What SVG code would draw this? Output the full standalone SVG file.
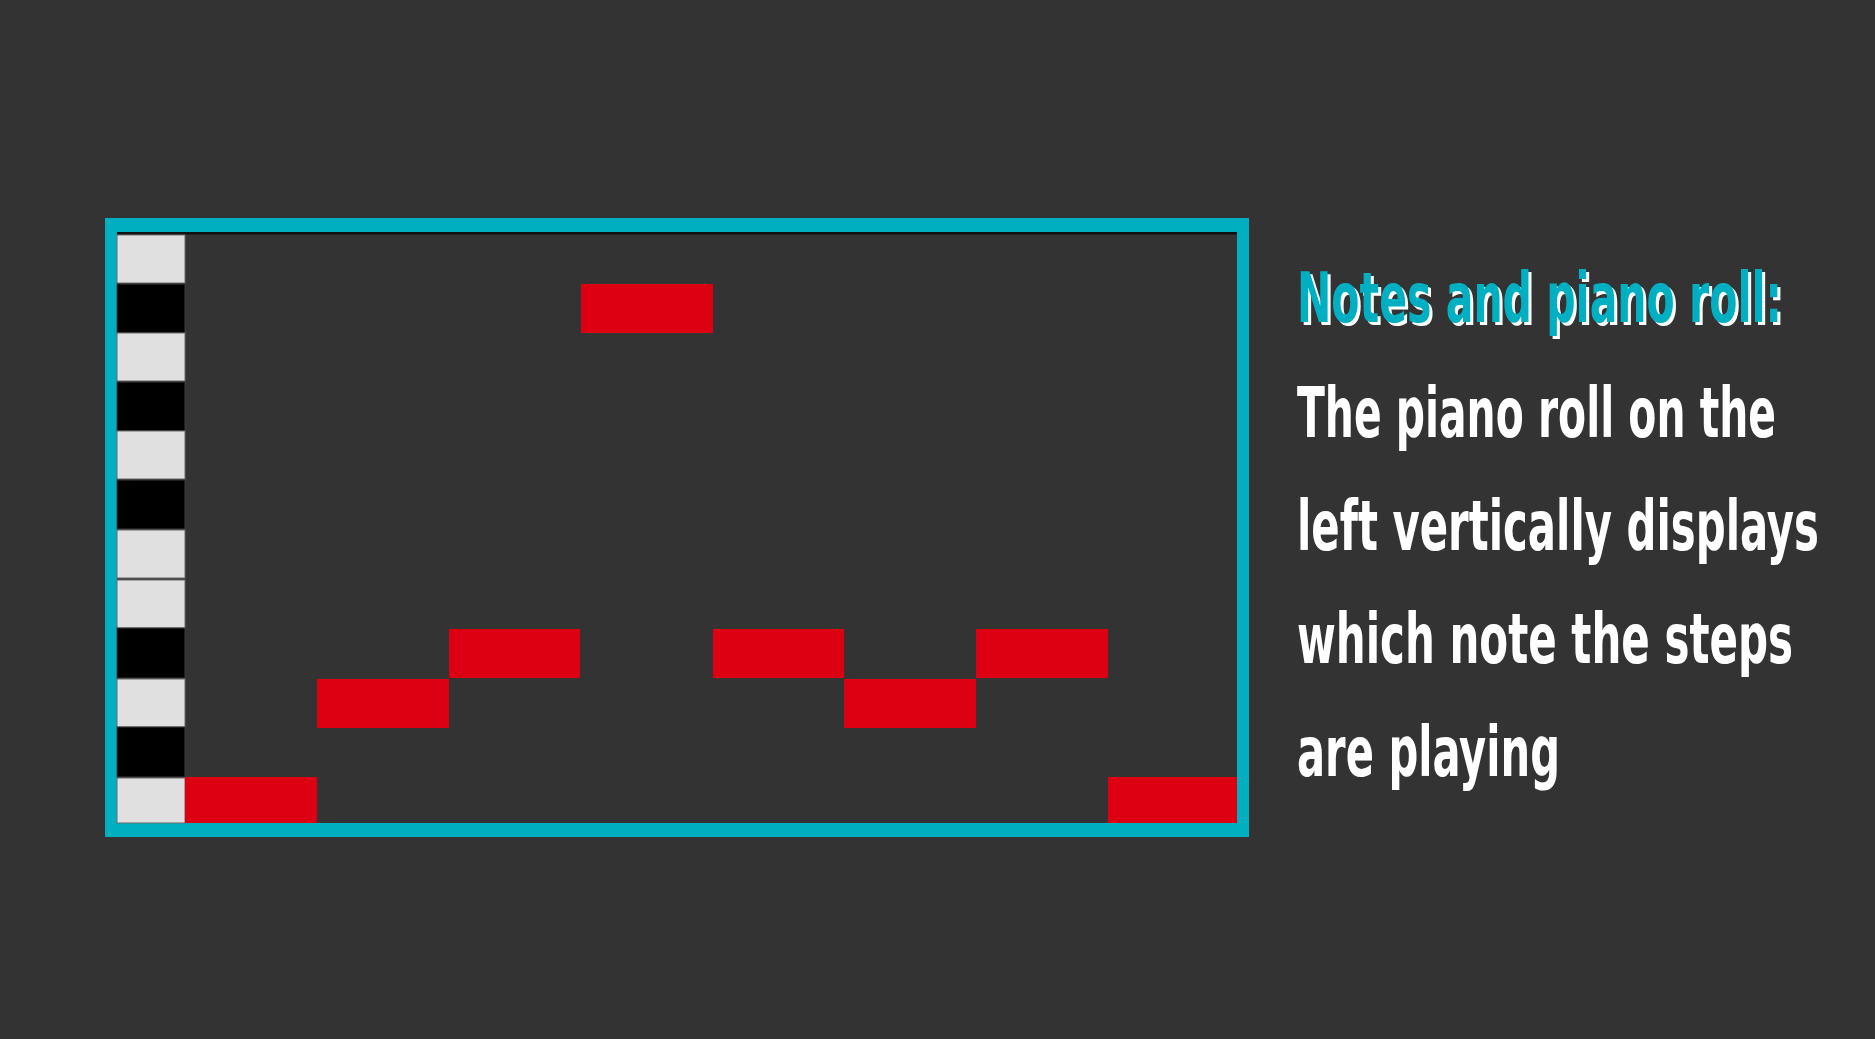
<svg xmlns="http://www.w3.org/2000/svg" width="1875" height="1039" viewBox="0 0 1875 1039">
<style>
.wk{fill:#e0e0e0;stroke:#6a6a6a;stroke-width:1}
.bk{fill:#000000;stroke:#3a3a3a;stroke-width:1}
.note{fill:#dc0012}
.txt{font-family:"DejaVu Sans Condensed","Liberation Sans Narrow","Liberation Sans",sans-serif;font-size:70px;font-weight:bold;fill:#ffffff}
.title{fill:#00b0c2}
</style>
<rect x="0" y="0" width="1875" height="1039" fill="#333333"/>
<g id="frame">
<rect x="105" y="218" width="1144" height="619" fill="#00b0c0"/>
<rect x="117" y="232" width="1120" height="591" fill="#333333"/>
<rect x="117" y="232" width="1120" height="2.5" fill="#111111"/>
</g>
<g id="keys">
<rect class="wk" x="117" y="235" width="68" height="48"/>
<rect class="bk" x="117" y="284" width="68" height="49"/>
<rect class="wk" x="117" y="333" width="68" height="48"/>
<rect class="bk" x="117" y="382" width="68" height="49"/>
<rect class="wk" x="117" y="431" width="68" height="48"/>
<rect class="bk" x="117" y="480" width="68" height="49"/>
<rect class="wk" x="117" y="530" width="68" height="48"/>
<rect class="wk" x="117" y="580" width="68" height="48"/>
<rect class="bk" x="117" y="628" width="68" height="50"/>
<rect class="wk" x="117" y="679" width="68" height="48"/>
<rect class="bk" x="117" y="727" width="68" height="50"/>
<rect class="wk" x="117" y="778" width="68" height="45"/>
</g>
<g id="notes">
<rect class="note" x="185" y="777" width="132" height="46"/>
<rect class="note" x="317" y="679" width="132" height="49"/>
<rect class="note" x="449" y="629" width="131" height="49"/>
<rect class="note" x="581" y="284" width="132" height="49"/>
<rect class="note" x="713" y="629" width="131" height="49"/>
<rect class="note" x="844" y="679" width="132" height="49"/>
<rect class="note" x="976" y="629" width="132" height="49"/>
<rect class="note" x="1108" y="777" width="129" height="46"/>
</g>
<g id="caption">
<text class="txt" x="1300" y="325" textLength="485" lengthAdjust="spacingAndGlyphs">Notes and piano roll:</text>
<text class="txt title" x="1297" y="322" textLength="485" lengthAdjust="spacingAndGlyphs">Notes and piano roll:</text>
<text class="txt" x="1297" y="437" textLength="479" lengthAdjust="spacingAndGlyphs">The piano roll on the</text>
<text class="txt" x="1297" y="550" textLength="522" lengthAdjust="spacingAndGlyphs">left vertically displays</text>
<text class="txt" x="1297" y="663" textLength="496" lengthAdjust="spacingAndGlyphs">which note the steps</text>
<text class="txt" x="1297" y="776" textLength="263" lengthAdjust="spacingAndGlyphs">are playing</text>
</g>
</svg>
